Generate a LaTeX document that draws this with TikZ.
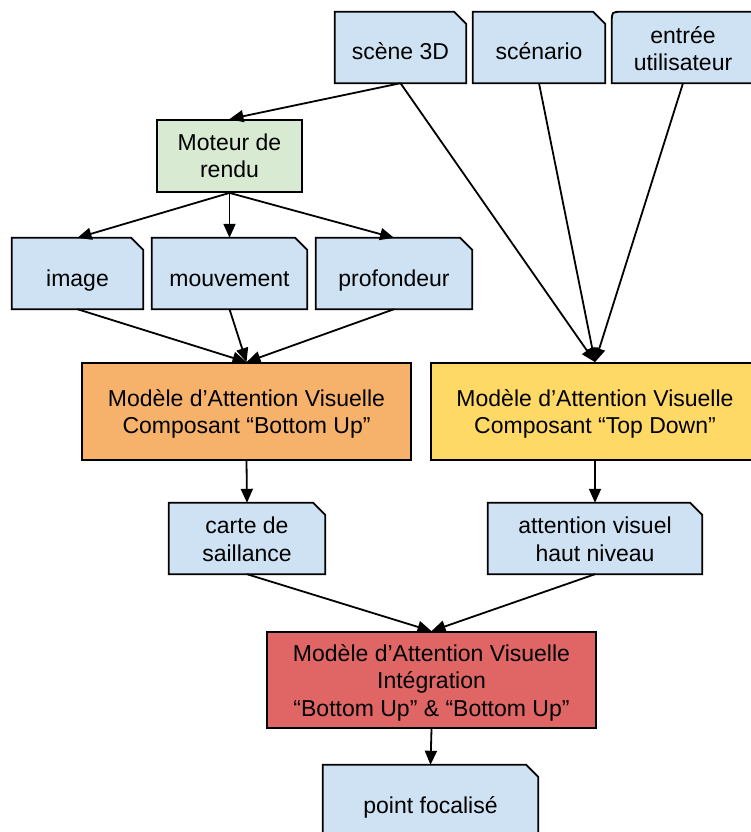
\documentclass[tikz,border=0pt]{standalone}
\usepackage{fontspec}
\setmainfont{Liberation Sans}
\usetikzlibrary{arrows.meta,backgrounds}
\definecolor{docblue}{HTML}{CFE2F3}
\definecolor{enggreen}{HTML}{D9EAD3}
\definecolor{buorange}{HTML}{F6B26B}
\definecolor{tdyellow}{HTML}{FFD966}
\definecolor{intred}{HTML}{E06666}
\tikzset{
  lbl/.style={inner sep=0pt, align=center, font=\fontsize{23}{27.5}\selectfont, text=black},
  docnode/.style={lbl, rectangle, draw=none, minimum height=71pt},
  boxnode/.style={lbl, rectangle, draw=black, line width=1.8pt},
  docshape/.style={fill=docblue, draw=black, line width=1.8pt, line join=miter},
  conn/.style={line width=1.8pt, -{Triangle[length=14pt,width=12pt]}}
}
\newcommand{\ltext}[2]{\raisebox{-#1}[\height][\depth]{\begin{tabular}{@{}c@{}}#2\end{tabular}}}
\newcommand{\foldshape}[1]{\path[docshape] (#1.south west) -- (#1.north west) -- ([xshift=-12pt]#1.north east) -- ([yshift=-12pt]#1.north east) -- (#1.south east) -- cycle;}
\begin{document}
\begin{tikzpicture}[x=1pt,y=-1pt]
\useasboundingbox (0,0) rectangle (750,832);
% top inputs
\node[docnode, minimum width=131pt] (s3d) at (400.5,47.5) {\ltext{7pt}{scène 3D}};
\node[docnode, minimum width=132pt] (scen) at (539,47.5) {\ltext{7pt}{scénario}};
\node[docnode, minimum width=142pt] (entree) at (683,47.5) {\ltext{4pt}{entrée\\utilisateur}};
% engine
\node[boxnode, fill=enggreen, minimum width=145pt, minimum height=72pt] (mot) at (229.5,156) {\ltext{2.5pt}{Moteur de\\rendu}};
% channels
\node[docnode, minimum width=131pt] (img) at (77.5,273.5) {\ltext{7pt}{image}};
\node[docnode, minimum width=155pt] (mouv) at (229.5,273.5) {\ltext{7pt}{mouvement}};
\node[docnode, minimum width=156pt] (prof) at (394,273.5) {\ltext{7pt}{profondeur}};
% models
\node[boxnode, fill=buorange, minimum width=329pt, minimum height=97pt] (bu) at (246.5,411.5) {\ltext{3pt}{Modèle d’Attention Visuelle\\Composant “Bottom Up”}};
\node[boxnode, fill=tdyellow, minimum width=328pt, minimum height=97pt] (td) at (595,411.5) {\ltext{3pt}{Modèle d’Attention Visuelle\\Composant “Top Down”}};
% outputs
\node[docnode, minimum width=156pt] (carte) at (247,538.5) {\ltext{3.5pt}{carte de\\saillance}};
\node[docnode, minimum width=214pt] (att) at (595,538.5) {\ltext{3.5pt}{attention visuel\\haut niveau}};
\node[boxnode, fill=intred, minimum width=329pt, minimum height=96pt] (integ) at (431.5,680) {\ltext{3pt}{Modèle d’Attention Visuelle\\Intégration\\“Bottom Up” \& “Bottom Up”}};
\node[docnode, minimum width=215pt] (pf) at (430.5,800.5) {\ltext{7pt}{point focalisé}};
\begin{scope}[on background layer]
\foldshape{s3d}
\foldshape{scen}
\path[docshape] (entree.south east) -- (entree.south west) -- ([yshift=-10pt]entree.north west) .. controls (entree.north west) .. ([xshift=10pt]entree.north west) -- (entree.north east) -- cycle;
\foldshape{img}
\foldshape{mouv}
\foldshape{prof}
\foldshape{carte}
\foldshape{att}
\foldshape{pf}
\end{scope}
% connectors
\draw[conn] (s3d.south) -- (mot.north);
\draw[conn] (s3d.south) -- (td.north);
\draw[conn] (scen.south) -- (td.north);
\draw[conn] (entree.south) -- (td.north);
\draw[conn] (mot.south) -- (img.north);
\draw[conn] (mot.south) -- (mouv.north);
\draw[conn] (mot.south) -- (prof.north);
\draw[conn] (img.south) -- (bu.north);
\draw[conn] (mouv.south) -- (bu.north);
\draw[conn] (prof.south) -- (bu.north);
\draw[conn] (bu.south) -- (carte.north);
\draw[conn] (td.south) -- (att.north);
\draw[conn] (carte.south) -- (integ.north);
\draw[conn] (att.south) -- (integ.north);
\draw[conn] (integ.south) -- (pf.north);
\end{tikzpicture}
\end{document}
